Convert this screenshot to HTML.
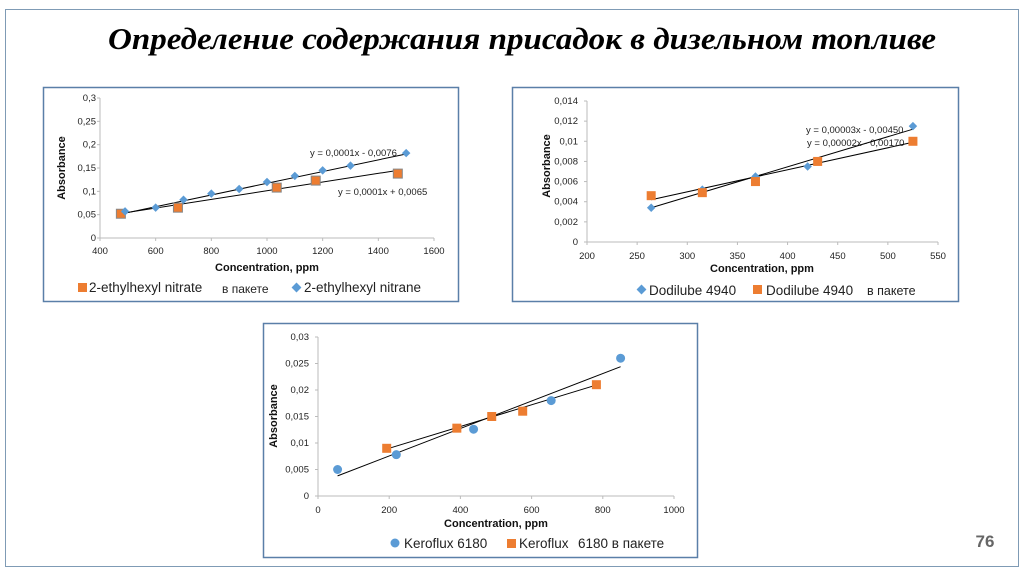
<!DOCTYPE html>
<html><head><meta charset="utf-8"><style>
body{margin:0;width:1024px;height:574px;background:#fff;overflow:hidden}
svg{position:absolute;left:0;top:0}
text{font-family:"Liberation Sans",sans-serif}
</style></head><body>
<svg id="s" width="1024" height="574" xmlns="http://www.w3.org/2000/svg">
<rect x="5.5" y="9.5" width="1013" height="557" fill="none" stroke="#7f9bb5" stroke-width="1"/>
<text x="522" y="49" text-anchor="middle" textLength="828" lengthAdjust="spacingAndGlyphs" style="font-family:'Liberation Serif',serif;font-weight:bold;font-style:italic;font-size:31px">Определение содержания присадок в дизельном топливе</text>
<text x="985" y="547" text-anchor="middle" font-size="17" font-weight="bold" fill="#666">76</text>
<rect x="43.5" y="87.5" width="415" height="214" fill="none" stroke="#5a7fa8" stroke-width="1.5"/>
<rect x="512.5" y="87.5" width="446" height="214" fill="none" stroke="#5a7fa8" stroke-width="1.5"/>
<rect x="263.5" y="323.5" width="434" height="234" fill="none" stroke="#5a7fa8" stroke-width="1.5"/>
<g font-size="9.5" fill="#222">
<text x="96" y="241" text-anchor="end">0</text><text x="96" y="217.7" text-anchor="end">0,05</text><text x="96" y="194.3" text-anchor="end">0,1</text><text x="96" y="171" text-anchor="end">0,15</text><text x="96" y="147.7" text-anchor="end">0,2</text><text x="96" y="124.3" text-anchor="end">0,25</text><text x="96" y="101" text-anchor="end">0,3</text>
<text x="100" y="254" text-anchor="middle">400</text><text x="155.7" y="254" text-anchor="middle">600</text><text x="211.3" y="254" text-anchor="middle">800</text><text x="267" y="254" text-anchor="middle">1000</text><text x="322.7" y="254" text-anchor="middle">1200</text><text x="378.3" y="254" text-anchor="middle">1400</text><text x="434" y="254" text-anchor="middle">1600</text>
<text x="310" y="156">y = 0,0001x - 0,0076</text>
<text x="338" y="195">y = 0,0001x + 0,0065</text>
<text x="578" y="245" text-anchor="end">0</text><text x="578" y="224.9" text-anchor="end">0,002</text><text x="578" y="204.7" text-anchor="end">0,004</text><text x="578" y="184.6" text-anchor="end">0,006</text><text x="578" y="164.4" text-anchor="end">0,008</text><text x="578" y="144.3" text-anchor="end">0,01</text><text x="578" y="124.1" text-anchor="end">0,012</text><text x="578" y="104" text-anchor="end">0,014</text>
<text x="587" y="259" text-anchor="middle">200</text><text x="637" y="259" text-anchor="middle">250</text><text x="687.3" y="259" text-anchor="middle">300</text><text x="737.4" y="259" text-anchor="middle">350</text><text x="787.6" y="259" text-anchor="middle">400</text><text x="837.7" y="259" text-anchor="middle">450</text><text x="887.9" y="259" text-anchor="middle">500</text><text x="938" y="259" text-anchor="middle">550</text>
<text x="806" y="133">y = 0,00003x - 0,00450</text>
<text x="807" y="146">y = 0,00002x - 0,00170</text>
<text x="309" y="499" text-anchor="end">0</text><text x="309" y="472.5" text-anchor="end">0,005</text><text x="309" y="446" text-anchor="end">0,01</text><text x="309" y="419.5" text-anchor="end">0,015</text><text x="309" y="393" text-anchor="end">0,02</text><text x="309" y="366.5" text-anchor="end">0,025</text><text x="309" y="340" text-anchor="end">0,03</text>
<text x="318" y="513" text-anchor="middle">0</text><text x="389.2" y="513" text-anchor="middle">200</text><text x="460.4" y="513" text-anchor="middle">400</text><text x="531.6" y="513" text-anchor="middle">600</text><text x="602.8" y="513" text-anchor="middle">800</text><text x="674" y="513" text-anchor="middle">1000</text>
</g>
<g font-weight="bold" font-size="11" fill="#111">
<text x="267" y="271" text-anchor="middle">Concentration, ppm</text>
<text transform="translate(65,168) rotate(-90)" text-anchor="middle">Absorbance</text>
<text x="762" y="272" text-anchor="middle">Concentration, ppm</text>
<text transform="translate(550,166) rotate(-90)" text-anchor="middle">Absorbance</text>
<text x="496" y="527" text-anchor="middle">Concentration, ppm</text>
<text transform="translate(277,416) rotate(-90)" text-anchor="middle">Absorbance</text>
</g>
<g font-size="13.5" fill="#222">
<rect x="78" y="283" width="9" height="9" fill="#ed7d31"/><text x="89" y="292">2-ethylhexyl nitrate</text><text x="222" y="293" font-size="12">в пакете</text>
<rect x="293" y="284" width="7" height="7" fill="#5b9bd5" transform="rotate(45 296.5 287.5)"/><text x="304" y="292">2-ethylhexyl nitrane</text>
<rect x="638" y="286" width="7" height="7" fill="#5b9bd5" transform="rotate(45 641.5 289.5)"/><text x="649" y="295">Dodilube 4940</text>
<rect x="753" y="285" width="9" height="9" fill="#ed7d31"/><text x="766" y="295">Dodilube 4940 </text><text x="867" y="295" font-size="12.5">в пакете</text>
<circle cx="395" cy="543" r="4.5" fill="#5b9bd5"/><text x="404" y="548">Keroflux 6180</text>
<rect x="507" y="539" width="9" height="9" fill="#ed7d31"/><text x="519" y="548">Keroflux</text><text x="578" y="548">6180 в пакете</text>
</g>
<g id="d"></g>
</svg>
<script>
var g=document.getElementById('d'),ns='http://www.w3.org/2000/svg';
function el(t,a){var e=document.createElementNS(ns,t);for(var k in a)e.setAttribute(k,a[k]);g.appendChild(e);return e;}
function chart(c){
 var X=function(v){return c.x0+(v-c.xa)/(c.xb-c.xa)*(c.x1-c.x0)},Y=function(v){return c.y0-(v-c.ya)/(c.yb-c.ya)*(c.y0-c.y1)};
 el('line',{x1:c.x0,y1:c.y0,x2:c.x1,y2:c.y0,stroke:'#bbb'});el('line',{x1:c.x0,y1:c.y0,x2:c.x0,y2:c.y1,stroke:'#bbb'});
 for(var i=0;i<=c.ny;i++){var y=c.y0-i*(c.y0-c.y1)/c.ny;el('line',{x1:c.x0-3,y1:y,x2:c.x0,y2:y,stroke:'#bbb'});}
 for(var i=0;i<=c.nx;i++){var x=c.x0+i*(c.x1-c.x0)/c.nx;el('line',{x1:x,y1:c.y0,x2:x,y2:c.y0+3,stroke:'#bbb'});}
 c.lines.forEach(function(l){el('line',{x1:X(l[0]),y1:Y(l[1]),x2:X(l[2]),y2:Y(l[3]),stroke:'#000','stroke-width':1});});
 c.series.forEach(function(s){s.p.forEach(function(p){var x=X(p[0]),y=Y(p[1]);
  if(s.t=='d')el('rect',{x:x-3,y:y-3,width:6,height:6,fill:'#5b9bd5',transform:'rotate(45 '+x+' '+y+')'});
  else if(s.t=='s')el('rect',{x:x-4.5,y:y-4.5,width:9,height:9,fill:'#ed7d31',stroke:s.st||'none'});
  else el('circle',{cx:x,cy:y,r:4.5,fill:'#5b9bd5'});});});
}
chart({x0:100,x1:434,xa:400,xb:1600,y0:238,y1:98,ya:0,yb:0.3,nx:6,ny:6,
 lines:[[480,0.052,1500,0.18],[480,0.053,1470,0.145]],
 series:[{t:'s',st:'#888',p:[[475,0.052],[680,0.065],[1035,0.108],[1175,0.123],[1470,0.138]]},
 {t:'d',p:[[490,0.057],[600,0.065],[700,0.082],[800,0.095],[900,0.105],[1000,0.12],[1100,0.133],[1200,0.145],[1300,0.155],[1500,0.182]]}]});
chart({x0:587,x1:938,xa:200,xb:550,y0:242,y1:101,ya:0,yb:0.014,nx:7,ny:7,
 lines:[[264,0.0034,525,0.0112],[264,0.0042,525,0.0099]],
 series:[{t:'d',p:[[264,0.0034],[315,0.0052],[368,0.0065],[420,0.0075],[525,0.0115]]},
 {t:'s',p:[[264,0.0046],[315,0.0049],[368,0.006],[430,0.008],[525,0.01]]}]});
chart({x0:318,x1:674,xa:0,xb:1000,y0:496,y1:337,ya:0,yb:0.03,nx:5,ny:6,
 lines:[[55,0.0038,850,0.0244],[195,0.0089,785,0.021]],
 series:[{t:'c',p:[[55,0.005],[220,0.0078],[437,0.0126],[655,0.018],[850,0.026]]},
 {t:'s',p:[[193,0.009],[390,0.0128],[488,0.015],[575,0.016],[782,0.021]]}]});
</script>
</body></html>
